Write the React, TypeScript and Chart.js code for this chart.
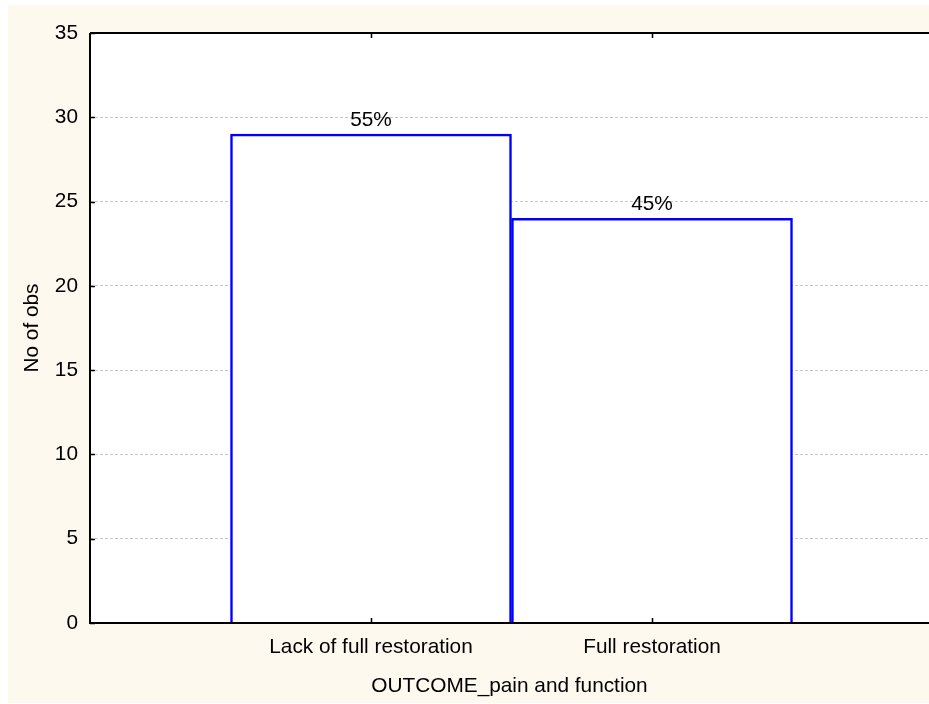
import React, { useEffect, useRef } from "react";
import { Chart, registerables } from "chart.js";

Chart.register(...registerables);

const categories = ["Lack of full restoration", "Full restoration"];
const counts = [29, 24];
const percentLabels = ["55%", "45%"];
const yTicks = [0, 5, 10, 15, 20, 25, 30, 35];
const yTitle = "No of obs";
const xTitle = "OUTCOME_pain and function";

const FONT = "'Liberation Sans', Arial, sans-serif";
const FS = 20.8;
const CREAM = "#FEF9EF";

const framePlugin = {
  id: "frame",
  beforeDraw(chart: any) {
    const { ctx, width, height } = chart;
    ctx.save();
    ctx.fillStyle = "#ffffff";
    ctx.fillRect(0, 0, width, height);
    ctx.fillStyle = CREAM;
    ctx.fillRect(8, 5, width - 8, height - 6);
    const a = chart.chartArea;
    ctx.fillStyle = "#ffffff";
    ctx.fillRect(a.left, a.top, a.right - a.left, a.bottom - a.top);
    ctx.restore();
  },
  afterDatasetsDraw(chart: any) {
    const { ctx } = chart;
    const a = chart.chartArea;
    const xs = chart.scales.x;
    const ys = chart.scales.y;
    ctx.save();
    const meta = chart.getDatasetMeta(0);
    ctx.fillStyle = "#000";
    ctx.font = `${FS}px ${FONT}`;
    ctx.textAlign = "center";
    ctx.textBaseline = "alphabetic";
    meta.data.forEach((el: any, i: number) => {
      ctx.fillText(percentLabels[i], el.x, el.y - 8);
    });
    ctx.strokeStyle = "#000";
    ctx.lineWidth = 2;
    ctx.beginPath();
    ctx.moveTo(a.left, a.top);
    ctx.lineTo(a.right, a.top);
    ctx.moveTo(a.left, a.top);
    ctx.lineTo(a.left, a.bottom);
    ctx.lineTo(a.right, a.bottom);
    ctx.stroke();
    ctx.lineWidth = 1.5;
    ctx.beginPath();
    yTicks.forEach((v) => {
      const y = Math.round(ys.getPixelForValue(v)) + 0.5;
      ctx.moveTo(a.left, y);
      ctx.lineTo(a.left + 5, y);
    });
    categories.forEach((_, i) => {
      const x = Math.round(xs.getPixelForValue(i + 1)) + 0.5;
      ctx.moveTo(x, a.bottom);
      ctx.lineTo(x, a.bottom - 5);
      ctx.moveTo(x, a.top);
      ctx.lineTo(x, a.top + 5);
    });
    ctx.stroke();
    ctx.fillStyle = "#000";
    ctx.font = `${FS}px ${FONT}`;
    ctx.textAlign = "center";
    ctx.textBaseline = "middle";
    ctx.fillText(xTitle, (a.left + a.right) / 2, a.bottom + 63);
    ctx.translate(32, (a.top + a.bottom) / 2);
    ctx.rotate(-Math.PI / 2);
    ctx.fillText(yTitle, 0, 0);
    ctx.restore();
  },
};

export default function App() {
  const ref = useRef<HTMLCanvasElement>(null);
  useEffect(() => {
    if (!ref.current) return;
    const unit = 281;
    const areaWidth = 929 - 90;
    const chart = new Chart(ref.current, {
      type: "bar",
      data: {
        datasets: [
          {
            data: counts.map((c, i) => ({ x: i + 1, y: c })),
            backgroundColor: "#ffffff",
            borderColor: "#0000ff",
            borderWidth: 2.5,
            barPercentage: 1,
            categoryPercentage: 1,
          },
        ],
      },
      options: {
        animation: false,
        responsive: false,
        maintainAspectRatio: false,
        layout: { padding: { left: 8, top: 33, right: 0, bottom: 0 } },
        plugins: { legend: { display: false }, tooltip: { enabled: false } },
        scales: {
          x: {
            type: "linear",
            offset: false,
            min: 0,
            max: areaWidth / unit,
            grid: { display: false, drawTicks: false },
            border: { display: false },
            afterBuildTicks: (s: any) => {
              s.ticks = categories.map((_, i) => ({ value: i + 1 }));
            },
            afterFit: (s: any) => {
              s.height = 81;
            },
            ticks: {
              autoSkip: false,
              maxRotation: 0,
              color: "#000",
              padding: 12,
              font: { family: FONT, size: FS },
              callback: (v: any) => categories[Number(v) - 1] ?? "",
            },
          },
          y: {
            min: 0,
            max: 35,
            afterBuildTicks: (s: any) => {
              s.ticks = yTicks.map((v) => ({ value: v }));
            },
            afterFit: (s: any) => {
              s.width = 82;
            },
            grid: {
              drawTicks: false,
              color: (c: any) =>
                c.tick && (c.tick.value === 0 || c.tick.value === 35) ? "rgba(0,0,0,0)" : "#c8c8c8",
              lineWidth: 1,
            },
            border: { display: false, dash: [3, 2] },
            ticks: {
              color: "#000",
              padding: 12,
              font: { family: FONT, size: FS },
            },
          },
        },
      },
      plugins: [framePlugin],
    } as any);
    return () => chart.destroy();
  }, []);
  return (
    <div style={{ position: "absolute", left: 0, top: 0, width: 929, height: 704 }}>
      <canvas ref={ref} width={929} height={704} style={{ width: 929, height: 704, display: "block" }} />
    </div>
  );
}
